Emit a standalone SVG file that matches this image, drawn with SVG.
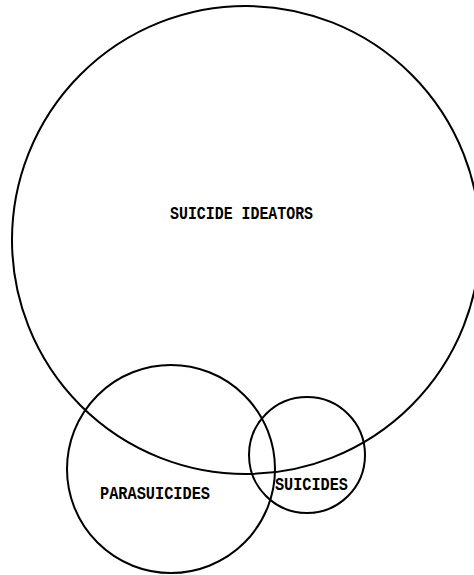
<svg xmlns="http://www.w3.org/2000/svg" width="474" height="575" viewBox="0 0 474 575">
<style>
.c{fill:none;stroke:#000;stroke-width:2}
.t{font-family:"Liberation Mono","DejaVu Sans Mono",monospace;font-weight:bold;font-size:18px;fill:#000}
</style>
<rect width="474" height="575" fill="#fff"/>
<g id="ideators">
<circle class="c" cx="246" cy="240" r="234"/>
<text class="t" x="170" y="219" textLength="143" lengthAdjust="spacingAndGlyphs">SUICIDE IDEATORS</text>
</g>
<g id="parasuicides">
<circle class="c" cx="171" cy="469" r="104"/>
<text class="t" x="100" y="499" textLength="110" lengthAdjust="spacingAndGlyphs">PARASUICIDES</text>
</g>
<g id="suicides">
<circle class="c" cx="307" cy="455" r="58"/>
<text class="t" x="275" y="490" textLength="73" lengthAdjust="spacingAndGlyphs">SUICIDES</text>
</g>
<g id="connectors"/>
</svg>
